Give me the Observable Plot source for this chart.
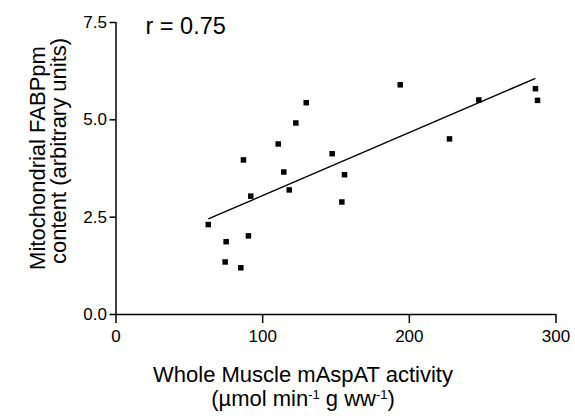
<!DOCTYPE html>
<html>
<head>
<meta charset="utf-8">
<script src="https://cdn.jsdelivr.net/npm/d3@7"></script>
<script src="https://cdn.jsdelivr.net/npm/@observablehq/plot@0.6"></script>
<style>
  html, body { margin: 0; padding: 0; background: #fff; }
  #chart svg { display: block; }
</style>
</head>
<body>
<div id="chart"></div>
<script>
// Data
const activity = [62.9, 75.1, 74.4, 85.1, 90.3, 86.9, 91.9, 110.6, 114.4, 118.1, 122.6, 129.7, 147.4, 155.8, 154.0, 193.8, 227.4, 247.4, 286.0, 287.4];
const fabppm   = [2.31, 1.87, 1.35, 1.20, 2.02, 3.97, 3.04, 4.38, 3.66, 3.20, 4.92, 5.44, 4.13, 3.59, 2.89, 5.90, 4.51, 5.51, 5.80, 5.50];
const fitX = [63.3, 285.6];
const fitY = [2.46, 6.06];
const xTicks = [0, 100, 200, 300];
const yTicks = [0, 2.5, 5.0, 7.5];
const annotation = ["r = 0.75"];

const points = activity.map((a, i) => ({x: a, y: fabppm[i]}));
const fit = fitX.map((a, i) => ({x: a, y: fitY[i]}));

const W = 575, H = 416;
const mL = 115.5, mR = 19.5, mT = 22, mB = 102;
const font = "'Liberation Sans', Arial, Helvetica, sans-serif";

const plot = Plot.plot({
  width: W,
  height: H,
  marginLeft: mL,
  marginRight: mR,
  marginTop: mT,
  marginBottom: mB,
  style: {fontFamily: font, fontSize: "17px", color: "#000", background: "#fff"},
  x: {domain: [0, 300], ticks: xTicks, label: null},
  y: {domain: [0, 7.5], ticks: yTicks, label: null, tickFormat: d => d.toFixed(1)},
  marks: [
    Plot.axisX({ticks: xTicks, tickSize: 9, tickPadding: 6, tickFormat: d => String(d), strokeWidth: 1.5, fontSize: 17, label: null}),
    Plot.axisY({ticks: yTicks, tickSize: 6, tickPadding: 3, tickFormat: d => d.toFixed(1), strokeWidth: 1.5, fontSize: 17, label: null}),
    Plot.ruleY([0], {stroke: "#000", strokeWidth: 1.5}),
    Plot.ruleX([0], {stroke: "#000", strokeWidth: 1.5}),
    Plot.line(fit, {x: "x", y: "y", stroke: "#000", strokeWidth: 1.4}),
    Plot.dot(points, {x: "x", y: "y", symbol: "square", r: 3.1, fill: "#000", stroke: "none"}),
    Plot.text(annotation, {frameAnchor: "top-left", dx: 29.5, dy: -5.5, textAnchor: "start", lineAnchor: "top", fontSize: 23.5, fill: "#000"})
  ]
});

document.getElementById("chart").appendChild(plot);

// Axis titles with superscripts
const svg = d3.select(plot);
svg.append("text")
  .attr("x", 303).attr("y", 382)
  .attr("text-anchor", "middle")
  .attr("font-family", font).attr("font-size", 22).attr("fill", "#000")
  .text("Whole Muscle mAspAT activity");
const xt2 = svg.append("text")
  .attr("x", 303).attr("y", 406)
  .attr("text-anchor", "middle")
  .attr("font-family", font).attr("font-size", 22).attr("fill", "#000");
xt2.append("tspan").text("(\u00b5mol min");
xt2.append("tspan").attr("dy", -7.5).attr("font-size", 13).text("-1");
xt2.append("tspan").attr("dy", 7.5).text(" g ww");
xt2.append("tspan").attr("dy", -7.5).attr("font-size", 13).text("-1");
xt2.append("tspan").attr("dy", 7.5).text(")");

svg.append("text")
  .attr("transform", "translate(45,158) rotate(-90)")
  .attr("text-anchor", "middle")
  .attr("font-family", font).attr("font-size", 22).attr("fill", "#000")
  .text("Mitochondrial FABPpm");
svg.append("text")
  .attr("transform", "translate(66,151) rotate(-90)")
  .attr("text-anchor", "middle")
  .attr("font-family", font).attr("font-size", 22).attr("fill", "#000")
  .text("content (arbitrary units)");
</script>
</body>
</html>
